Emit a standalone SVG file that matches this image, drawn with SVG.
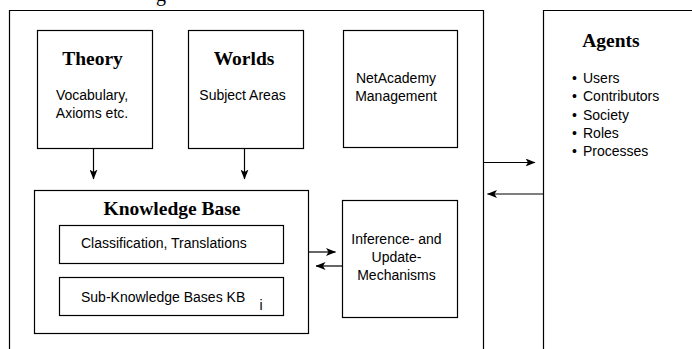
<svg xmlns="http://www.w3.org/2000/svg" width="692" height="349" viewBox="0 0 692 349">
  <style>
    .box { fill: #fff; stroke: #000; stroke-width: 1.2; }
    .frame { fill: none; stroke: #000; stroke-width: 1.2; }
    .title { font-family: "Liberation Serif", "Times New Roman", serif; font-weight: bold; font-size: 19.5px; fill: #000; text-anchor: middle; }
    .body { font-family: "Liberation Sans", Arial, sans-serif; font-size: 14px; fill: #000; }
    .mid { text-anchor: middle; }
    .link { fill: none; stroke: #000; stroke-width: 1.2; marker-end: url(#arrow); }
  </style>
  <defs>
    <marker id="arrow" viewBox="0 0 10 8" refX="9.5" refY="4" markerWidth="10" markerHeight="8" markerUnits="userSpaceOnUse" orient="auto">
      <path d="M0,0 L10,4 L0,8 L2.5,4 Z" fill="#000"/>
    </marker>
  </defs>

  <rect width="692" height="349" fill="#fff"/>

  <!-- descender of a heading line cut off at the top edge -->
  <text x="156" y="0.5" font-family="Liberation Serif, serif" font-size="20" fill="#000">g</text>

  <!-- system frame and agents column, both running past the bottom edge -->
  <g id="system">
    <path class="frame" d="M9.5,352 V10.5 H483.5 V352"/>
  </g>

  <g id="agents">
    <path class="frame" d="M543.5,352 V10.5 H695"/>
    <text class="title" x="611" y="47">Agents</text>
    <g class="body">
      <text x="572" y="83">• <tspan x="583">Users</tspan></text>
      <text x="572" y="101.3">• <tspan x="583">Contributors</tspan></text>
      <text x="572" y="119.6">• <tspan x="583">Society</tspan></text>
      <text x="572" y="137.9">• <tspan x="583">Roles</tspan></text>
      <text x="572" y="156.2">• <tspan x="583">Processes</tspan></text>
    </g>
  </g>

  <g id="theory">
    <rect class="box" x="37.5" y="30.5" width="115" height="118"/>
    <text class="title" x="92.5" y="64.5">Theory</text>
    <text class="body mid" x="92" y="100">Vocabulary,</text>
    <text class="body mid" x="92" y="118">Axioms etc.</text>
  </g>

  <g id="worlds">
    <rect class="box" x="188.5" y="30.5" width="115" height="118"/>
    <text class="title" x="244" y="64.5">Worlds</text>
    <text class="body mid" x="242.5" y="100">Subject Areas</text>
  </g>

  <g id="management">
    <rect class="box" x="343.5" y="30.5" width="114" height="117"/>
    <text class="body mid" x="396" y="83">NetAcademy</text>
    <text class="body mid" x="396" y="101">Management</text>
  </g>

  <g id="knowledge-base">
    <rect class="box" x="34.5" y="190.5" width="274" height="143"/>
    <text class="title" x="172" y="215">Knowledge Base</text>
    <rect class="box" x="59.5" y="225.5" width="224" height="38"/>
    <text class="body" x="81" y="247.7">Classification, Translations</text>
    <rect class="box" x="59.5" y="277.5" width="224" height="38"/>
    <text class="body" x="81" y="301.7">Sub-Knowledge Bases KB</text>
    <text class="body" x="259.5" y="310" font-size="10">i</text>
  </g>

  <g id="inference">
    <rect class="box" x="342.5" y="200.5" width="115" height="117"/>
    <text class="body mid" x="396.5" y="244">Inference- and</text>
    <text class="body mid" x="396.5" y="261.7">Update-</text>
    <text class="body mid" x="396.5" y="280">Mechanisms</text>
  </g>

  <g id="connectors">
    <line class="link" x1="93.5" y1="148.5" x2="93.5" y2="179"/>
    <line class="link" x1="244.5" y1="148.5" x2="244.5" y2="179"/>
    <line class="link" x1="308.5" y1="252" x2="335.5" y2="252"/>
    <line class="link" x1="342.5" y1="266" x2="316" y2="266"/>
    <line class="link" x1="483.5" y1="162.5" x2="535" y2="162.5"/>
    <line class="link" x1="543.5" y1="194" x2="487.5" y2="194"/>
  </g>
</svg>
